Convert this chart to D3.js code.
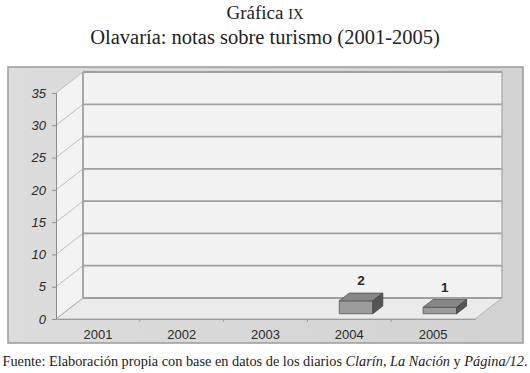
<!DOCTYPE html>
<html>
<head>
<meta charset="utf-8">
<script src="https://cdn.jsdelivr.net/npm/d3@7"></script>
<style>
  body { margin: 0; background: #fff; }
  svg { display: block; }
</style>
</head>
<body>
<svg id="chart" width="530" height="373"></svg>
<script>
// data
const years = ["2001", "2002", "2003", "2004", "2005"]
const notas = [0, 0, 0, 2, 1]
const yTicks = [0, 5, 10, 15, 20, 25, 30, 35]

const svg = d3.select("#chart")

// depth of the 3d box
const dx = 27, dy = -21

let x = d3.scaleBand()
    .domain(years)
    .range([56, 475])

let y = d3.scaleLinear()
    .domain([0, 35])
    .range([319, 93])

// titles
svg.append("text")
    .attr("x", 265).attr("y", 19)
    .attr("text-anchor", "middle")
    .style("font-family", "Liberation Serif, serif")
    .style("font-size", "19px")
    .attr("fill", "#222")
    .html('Gráfica <tspan style="font-size:14.5px">IX</tspan>')

svg.append("text")
    .attr("x", 265).attr("y", 44)
    .attr("text-anchor", "middle")
    .style("font-family", "Liberation Serif, serif")
    .style("font-size", "20.5px")
    .attr("fill", "#222")
    .text("Olavaría: notas sobre turismo (2001-2005)")

// outer frame
let grad = svg.append("defs").append("linearGradient")
    .attr("id", "bg").attr("x1", 0).attr("x2", 1).attr("y1", 0).attr("y2", 0)
grad.append("stop").attr("offset", 0).attr("stop-color", "#dcdcdc")
grad.append("stop").attr("offset", 1).attr("stop-color", "#d2d2d2")

svg.append("rect")
    .attr("x", 8).attr("y", 67)
    .attr("width", 515).attr("height", 276)
    .attr("fill", "url(#bg)")
    .attr("stroke", "#9a9a9a")
    .attr("stroke-width", 1.5)

const x0 = x.range()[0], x1 = x.range()[1]
const yb = y(0), yt = y(35)

// left side wall
svg.append("path")
    .attr("d", `M${x0},${yb} L${x0 + dx},${yb + dy} L${x0 + dx},${yt + dy} L${x0},${yt} Z`)
    .attr("fill", "#f3f3f3")

// back wall
svg.append("rect")
    .attr("x", x0 + dx).attr("y", yt + dy)
    .attr("width", x1 - x0).attr("height", yb - yt)
    .attr("fill", "#f2f2f2")

// floor
svg.append("path")
    .attr("d", `M${x0},${yb} L${x1},${yb} L${x1 + dx},${yb + dy} L${x0 + dx},${yb + dy} Z`)
    .attr("fill", "#ebebeb")
    .attr("stroke", "#b4b4b4")
    .attr("stroke-width", 1)

// grid on back wall and side wall
let grid = svg.append("g")
grid.selectAll(".back")
    .data(yTicks)
    .enter().append("line")
        .attr("x1", x0 + dx).attr("x2", x1 + dx)
        .attr("y1", d => y(d) + dy).attr("y2", d => y(d) + dy)
        .attr("stroke", "#a0a0a0")
        .attr("stroke-width", 1.8)

grid.selectAll(".side")
    .data(yTicks)
    .enter().append("line")
        .attr("x1", x0).attr("x2", x0 + dx)
        .attr("y1", d => y(d)).attr("y2", d => y(d) + dy)
        .attr("stroke", "#b0b0b0")
        .attr("stroke-width", 0.8)

// wall edges
svg.append("line")
    .attr("x1", x0 + dx).attr("x2", x0 + dx)
    .attr("y1", yt + dy).attr("y2", yb + dy)
    .attr("stroke", "#a0a0a0").attr("stroke-width", 1.8)
svg.append("line")
    .attr("x1", x1 + dx).attr("x2", x1 + dx)
    .attr("y1", yt + dy).attr("y2", yb + dy)
    .attr("stroke", "#a4a4a4").attr("stroke-width", 1.2)

// y axis
let yAxis = svg.append("g")
    .attr("transform", `translate(${x0},0)`)
    .call(d3.axisLeft(y).tickValues(yTicks).tickSize(4).tickPadding(6))
yAxis.select(".domain").attr("stroke", "#8a8a8a")
yAxis.selectAll(".tick line").attr("stroke", "#8a8a8a")
yAxis.selectAll("text")
    .style("font-family", "Liberation Sans, Arial, sans-serif")
    .style("font-size", "13px")
    .style("font-style", "italic")
    .attr("fill", "#2a2a2a")

// x axis
let xAxis = svg.append("g")
    .attr("transform", `translate(0,${yb})`)
    .call(d3.axisBottom(x).tickSize(0).tickPadding(11))
xAxis.select(".domain").attr("stroke", "#9a9a9a")
xAxis.selectAll("text")
    .style("font-family", "Liberation Sans, Arial, sans-serif")
    .style("font-size", "13px")
    .attr("fill", "#2a2a2a")
xAxis.selectAll(".sep")
    .data(years.slice(1))
    .enter().append("line")
        .attr("x1", d => x(d)).attr("x2", d => x(d))
        .attr("y1", 0).attr("y2", 3)
        .attr("stroke", "#9a9a9a")

// bars
const f0 = 0.25, f1 = 0.62
const bw = x.bandwidth() * 0.4

let barData = years.map((d, i) => ({year: d, value: notas[i]})).filter(d => d.value > 0)

let bars = svg.selectAll(".bar")
    .data(barData)
    .enter().append("g")
        .attr("class", "bar")

function face(d, which) {
    let l = x(d.year) + x.bandwidth() / 2 - bw / 2 + dx * f0
    let r = l + bw
    let b = y(0) + dy * f0
    let t = y(d.value) + dy * f0
    let ox = dx * (f1 - f0), oy = dy * (f1 - f0)
    if (which == "front") return `M${l},${b} L${r},${b} L${r},${t} L${l},${t} Z`
    if (which == "top") return `M${l},${t} L${r},${t} L${r + ox},${t + oy} L${l + ox},${t + oy} Z`
    return `M${r},${b} L${r + ox},${b + oy} L${r + ox},${t + oy} L${r},${t} Z`
}

bars.append("path").attr("d", d => face(d, "front"))
    .attr("fill", "#9b9b9b").attr("stroke", "#555").attr("stroke-width", 0.8)
bars.append("path").attr("d", d => face(d, "top"))
    .attr("fill", "#878787").attr("stroke", "#555").attr("stroke-width", 0.8)
bars.append("path").attr("d", d => face(d, "side"))
    .attr("fill", "#555").attr("stroke", "#444").attr("stroke-width", 0.8)

bars.append("text")
    .attr("x", d => x(d.year) + x.bandwidth() / 2 + dx * (f0 + f1) / 2)
    .attr("y", d => y(d.value) + dy * f1 - 8)
    .attr("text-anchor", "middle")
    .style("font-family", "Liberation Sans, Arial, sans-serif")
    .style("font-size", "13.5px")
    .style("font-weight", "bold")
    .attr("fill", "#2a2a2a")
    .text(d => d.value)

// source line
svg.append("text")
    .attr("x", 265).attr("y", 366)
    .attr("text-anchor", "middle")
    .style("font-family", "Liberation Serif, serif")
    .style("font-size", "14.3px")
    .attr("fill", "#222")
    .html('Fuente: Elaboración propia con base en datos de los diarios <tspan font-style="italic">Clarín</tspan>, <tspan font-style="italic">La Nación</tspan> y <tspan font-style="italic">Página/12</tspan>.')
</script>
</body>
</html>
